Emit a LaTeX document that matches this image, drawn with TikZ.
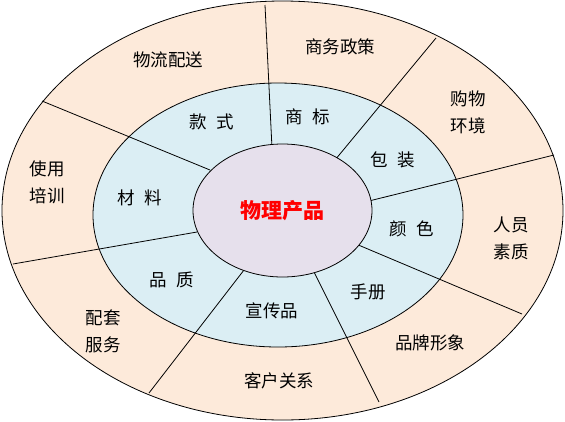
\documentclass[tikz,border=0pt]{standalone}
\usepackage{fontspec}
\setmainfont{Noto Sans CJK SC}
\usepackage{tikz}
\usetikzlibrary{shapes.geometric}
\definecolor{peach}{HTML}{FDEADA}
\definecolor{skyblue}{HTML}{DBEEF4}
\definecolor{lilac}{HTML}{E6E0EC}

\begin{document}
\begin{tikzpicture}[x=1pt,y=-1pt]
\tikzstyle{ring}=[ellipse,draw=black,line width=0.8pt,inner sep=0pt]
\tikzstyle{txt}=[font=\fontsize{17.5}{27}\selectfont,align=center,inner sep=0pt]

\useasboundingbox (0,0) rectangle (565,421);

\node[ring,fill=peach,minimum width=561pt,minimum height=419pt] (outer) at (282.5,210.5) {};
\node[ring,fill=skyblue,minimum width=370pt,minimum height=264pt] (middle) at (278,215) {};

% dividers
\coordinate (o1) at (265,5);   \coordinate (i1) at (272,148);
\coordinate (o2) at (436,38);  \coordinate (i2) at (335,160);
\coordinate (o3) at (554,155); \coordinate (i3) at (369,201);
\coordinate (o4) at (522,314); \coordinate (i4) at (356,244);
\coordinate (o5) at (379,402); \coordinate (i5) at (313,270);
\coordinate (o6) at (149,393); \coordinate (i6) at (244,270);
\coordinate (o7) at (13,264);  \coordinate (i7) at (197,232);
\coordinate (o8) at (42,101);  \coordinate (i8) at (210,170);

\path[line width=0.8pt]
(o1) edge (i1)
(o2) edge (i2)
(o3) edge (i3)
(o4) edge (i4)
(o5) edge (i5)
(o6) edge (i6)
(o7) edge (i7)
(o8) edge (i8);

\node[ring,fill=lilac,minimum width=179pt,minimum height=133pt] (inner) at (282.5,210.5) {};
\node[font=\fontsize{21}{25}\selectfont\bfseries,text=red,inner sep=0pt] (core) at (inner) {物理产品};

% outer ring
\node[txt] (wuliu) at (168,60) {物流配送};
\node[txt] (shangwu) at (340,47) {商务政策};
\node[txt] (gouwu) at (468,112) {购物\\环境};
\node[txt] (renyuan) at (511,238) {人员\\素质};
\node[txt] (pinpai) at (430,343) {品牌形象};
\node[txt] (kehu) at (279,381) {客户关系};
\node[txt] (peitao) at (103,331) {配套\\服务};
\node[txt] (shiyong) at (47,182) {使用\\培训};

% middle ring
\node[txt] (kuanshi) at (212,122) {款\hspace{0.55em}式};
\node[txt] (shangbiao) at (308,117) {商\hspace{0.55em}标};
\node[txt] (baozhuang) at (393,160) {包\hspace{0.55em}装};
\node[txt] (yanse) at (412,229) {颜\hspace{0.55em}色};
\node[txt] (shouce) at (368,292) {手册};
\node[txt] (xuanchuan) at (272,311) {宣传品};
\node[txt] (pinzhi) at (172,280) {品\hspace{0.55em}质};
\node[txt] (cailiao) at (140,198) {材\hspace{0.55em}料};

\end{tikzpicture}
\end{document}
